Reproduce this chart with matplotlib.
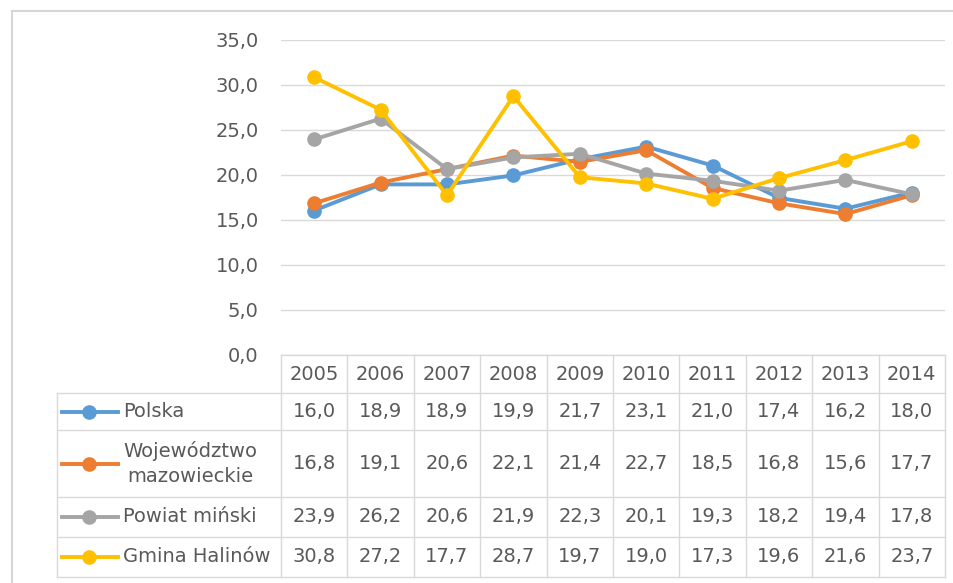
import matplotlib
matplotlib.use("Agg")
import matplotlib.pyplot as plt
from matplotlib.lines import Line2D

plt.rcParams['font.family'] = ['DejaVu Sans']

years = ["2005", "2006", "2007", "2008", "2009", "2010", "2011", "2012", "2013", "2014"]
series_names = ["Polska", "Województwo\nmazowieckie", "Powiat miński", "Gmina Halinów"]
polska = [16.0, 18.9, 18.9, 19.9, 21.7, 23.1, 21.0, 17.4, 16.2, 18.0]
mazowieckie = [16.8, 19.1, 20.6, 22.1, 21.4, 22.7, 18.5, 16.8, 15.6, 17.7]
powiat = [23.9, 26.2, 20.6, 21.9, 22.3, 20.1, 19.3, 18.2, 19.4, 17.8]
halinow = [30.8, 27.2, 17.7, 28.7, 19.7, 19.0, 17.3, 19.6, 21.6, 23.7]
series_values = [polska, mazowieckie, powiat, halinow]
colors = ["#5B9BD5", "#ED7D31", "#A5A5A5", "#FFC000"]
yticks = [0, 5, 10, 15, 20, 25, 30, 35]

W, H = 954, 583
fig = plt.figure(figsize=(W / 100, H / 100), dpi=100)
fig.patch.set_facecolor("white")

def fx(px):
    return px / W

def fy(py):
    return 1 - py / H

text_color = "#595959"
grid_color = "#D9D9D9"
fs = 14.0
lw = 2.8
ms = 9.5

# outer frame (top and left edges)
fig.add_artist(Line2D([fx(12), fx(954)], [fy(11), fy(11)], color="#D6D6D6", lw=1.5))
fig.add_artist(Line2D([fx(12), fx(12)], [fy(11), fy(583)], color="#D6D6D6", lw=1.5))

# plot area
x_left, x_right = 281, 945
y_top, y_bot = 39.5, 354.5
ax = fig.add_axes([fx(x_left), fy(y_bot), fx(x_right - x_left), (y_bot - y_top) / H])
n = len(years)
xs = list(range(n))
for vals, c in zip(series_values, colors):
    ax.plot(xs, vals, color=c, lw=lw, marker="o", markersize=ms, zorder=3)
ax.set_xlim(-0.5, n - 0.5)
ax.set_ylim(0, 35)
ax.set_yticks(yticks)
ax.set_yticklabels([f"{v:.1f}".replace(".", ",") for v in yticks], color=text_color, fontsize=fs)
ax.tick_params(axis="y", length=0, pad=16)
ax.set_xticks([])
ax.grid(axis="y", color=grid_color, lw=1)
for s in ax.spines.values():
    s.set_visible(False)
ax.set_facecolor("none")

# data table
col_w = (x_right - x_left) / n
label_left = 57
header_top, header_bot = 355, 393
row_bounds = [393, 430, 497, 537, 577]

def hline(y, x0, x1):
    fig.add_artist(Line2D([fx(x0), fx(x1)], [fy(y), fy(y)], color=grid_color, lw=1))

def vline(x, y0, y1):
    fig.add_artist(Line2D([fx(x), fx(x)], [fy(y0), fy(y1)], color=grid_color, lw=1))

hline(header_top, x_left, x_right)
for y in row_bounds:
    hline(y, label_left, x_right)
for i in range(n + 1):
    vline(x_left + i * col_w, header_top, row_bounds[-1])
vline(label_left, row_bounds[0], row_bounds[-1])

for i, yr in enumerate(years):
    fig.text(fx(x_left + (i + 0.5) * col_w), fy((header_top + header_bot) / 2), yr,
             ha="center", va="center", color=text_color, fontsize=fs)

for r, (name, vals, c) in enumerate(zip(series_names, series_values, colors)):
    yc = (row_bounds[r] + row_bounds[r + 1]) / 2
    fig.add_artist(Line2D([fx(62), fx(118)], [fy(yc), fy(yc)], color=c, lw=lw))
    fig.add_artist(Line2D([fx(89)], [fy(yc)], color=c, marker="o", markersize=ms, lw=0))
    fig.text(fx(123), fy(yc), name, ha="left", va="center", multialignment="center",
             color=text_color, fontsize=fs, linespacing=1.35)
    for i, v in enumerate(vals):
        fig.text(fx(x_left + (i + 0.5) * col_w), fy(yc), f"{v:.1f}".replace(".", ","),
                 ha="center", va="center", color=text_color, fontsize=fs)

fig.savefig("out.png", dpi=100, facecolor="white")
